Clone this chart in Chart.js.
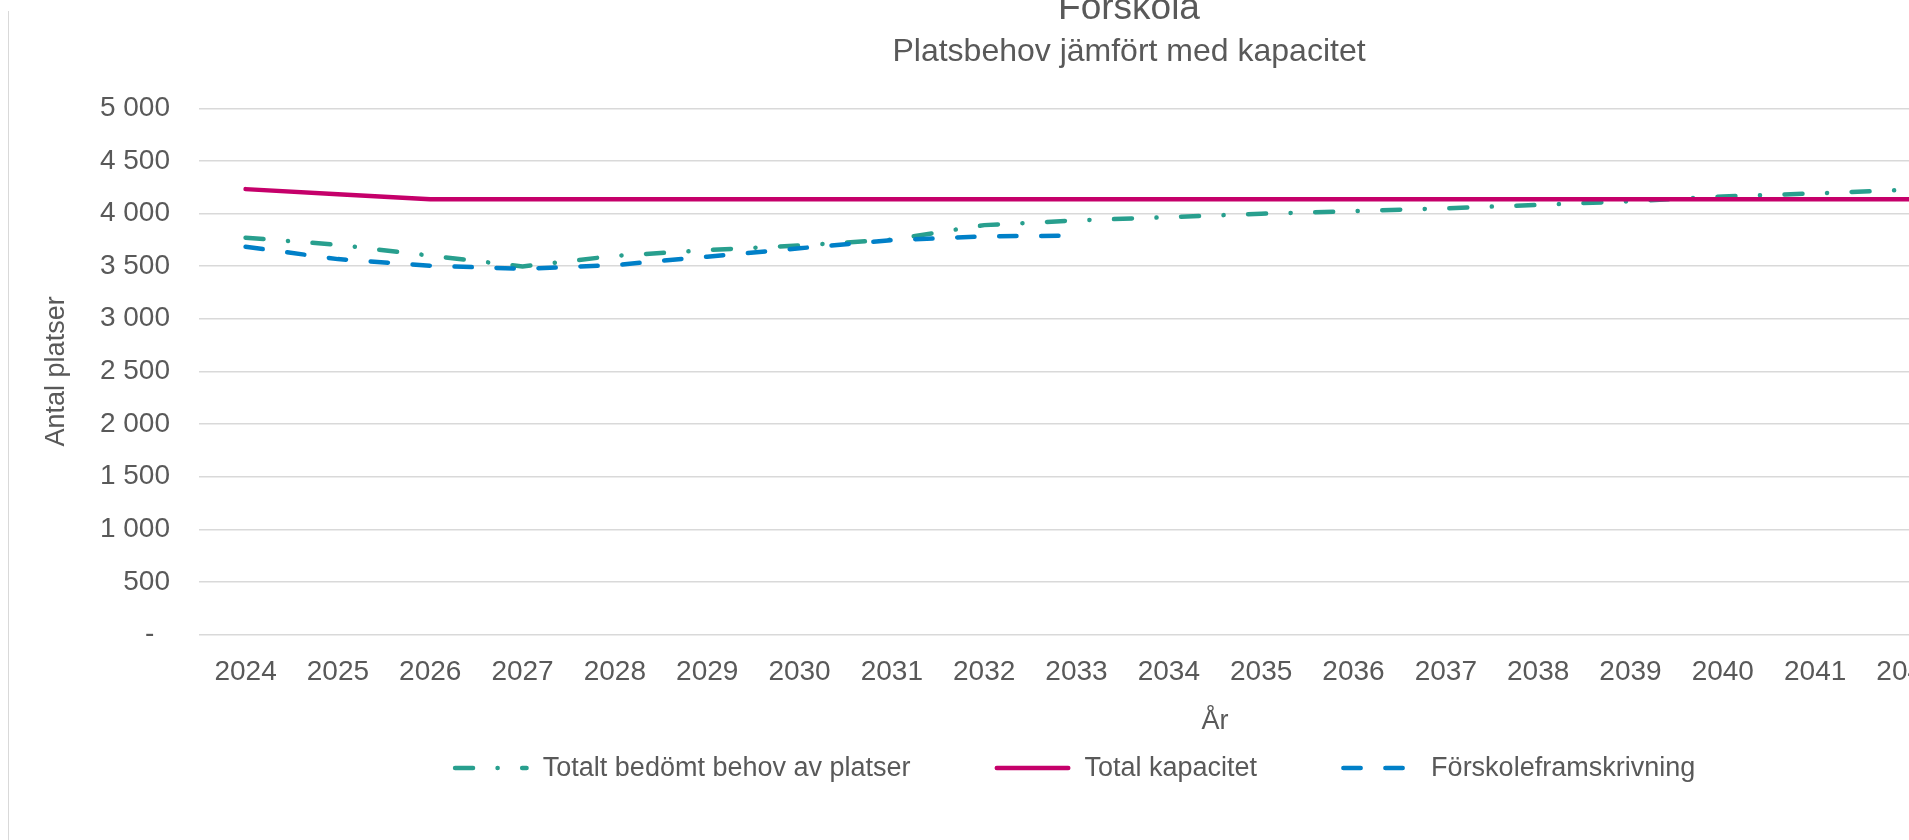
<!DOCTYPE html>
<html>
<head>
<meta charset="utf-8">
<script src="https://cdn.jsdelivr.net/npm/chart.js@4"></script>
<style>
  html, body { margin: 0; padding: 0; background: #fff; }
  body { width: 1909px; height: 840px; overflow: hidden; position: relative; }
  #frame { position: absolute; left: 8px; top: 11px; height: 829px; border-left: 1px solid #d9d9d9; }
  #chart { position: absolute; left: 9px; top: -20px; }
</style>
</head>
<body>
<div id="frame"></div>
<canvas id="chart" width="2240" height="860"></canvas>
<script>
// ---------------- data ----------------
const years = ['2024','2025','2026','2027','2028','2029','2030','2031','2032','2033','2034',
               '2035','2036','2037','2038','2039','2040','2041','2042','2043','2044','2045'];

const behov = [3770, 3703, 3600, 3498, 3598, 3652, 3697, 3752, 3890, 3935, 3966,
               3998, 4023, 4050, 4082, 4117, 4162, 4192, 4225, 4250, 4275, 4300];

const kapacitet = [4232, 4183, 4135, 4135, 4135, 4135, 4135, 4135, 4135, 4135, 4135,
                   4135, 4135, 4135, 4135, 4135, 4135, 4135, 4135, 4135, 4135, 4135];

const framskrivning = [3684, 3567, 3504, 3475, 3510, 3590, 3670, 3747, 3783, 3790, null,
                       null, null, null, null, null, null, null, null, null, null, null];

const yTicks = [0, 500, 1000, 1500, 2000, 2500, 3000, 3500, 4000, 4500, 5000];

const TEXT = '#595959';
const FONT = '"Liberation Sans", Arial, sans-serif';

// ---------------- legend (drawn as line samples) ----------------
const LEGEND_CX = 1065;   // canvas coords
const LEGEND_Y = 788;
const SAMPLE = 76, SAMPLE_GAP = 14, ITEM_GAP = 84;

const lineLegend = {
  id: 'lineLegend',
  afterDraw(chart) {
    const ctx = chart.ctx;
    const sets = chart.data.datasets;
    ctx.save();
    ctx.font = '27px ' + FONT;
    const widths = sets.map(ds => SAMPLE + SAMPLE_GAP + ctx.measureText(ds.label).width);
    const total = widths.reduce((a, b) => a + b, 0) + ITEM_GAP * (sets.length - 1);
    let x = LEGEND_CX - total / 2;
    sets.forEach((ds, i) => {
      const w = ds.borderWidth;
      ctx.strokeStyle = ds.borderColor;
      ctx.lineWidth = w;
      ctx.lineCap = 'round';
      ctx.setLineDash(ds.borderDash || []);
      ctx.beginPath();
      ctx.moveTo(x + w / 2, LEGEND_Y);
      ctx.lineTo(x + SAMPLE - w / 2, LEGEND_Y);
      ctx.stroke();
      ctx.setLineDash([]);
      ctx.fillStyle = TEXT;
      ctx.textAlign = 'left';
      ctx.textBaseline = 'middle';
      ctx.fillText(ds.label, x + SAMPLE + SAMPLE_GAP, LEGEND_Y + 1);
      x += widths[i] + ITEM_GAP;
    });
    ctx.restore();
  }
};

function fmt(v) {
  if (v === 0) return '-  ';
  return String(v).replace(/\B(?=(\d{3})+(?!\d))/g, ' ');
}

const ctx = document.getElementById('chart').getContext('2d');
const chart = new Chart(ctx, {
  type: 'line',
  data: {
    labels: years,
    datasets: [
      {
        label: 'Totalt bedömt behov av platser',
        data: behov,
        borderColor: '#289F8E',
        borderWidth: 4.5,
        borderDash: [18, 24.5, 0.1, 24.5],
        borderCapStyle: 'round',
        pointRadius: 0,
        tension: 0,
        order: 2
      },
      {
        label: 'Total kapacitet',
        data: kapacitet,
        borderColor: '#C5006A',
        borderWidth: 4.5,
        borderCapStyle: 'round',
        pointRadius: 0,
        tension: 0,
        order: 1
      },
      {
        label: 'Förskoleframskrivning',
        data: framskrivning,
        borderColor: '#0080C8',
        borderWidth: 4.5,
        borderDash: [17.3, 24.7],
        borderCapStyle: 'round',
        pointRadius: 0,
        tension: 0,
        order: 0
      }
    ]
  },
  options: {
    responsive: false,
    animation: false,
    layout: { padding: { left: 18.4, right: 18.4, top: 0, bottom: 101.8 } },
    plugins: {
      legend: { display: false },
      tooltip: { enabled: false },
      title: {
        display: true,
        text: 'Förskola',
        color: TEXT,
        font: { family: FONT, size: 37, weight: 'normal', lineHeight: 1.0 },
        padding: { top: 10.7, bottom: 0 }
      },
      subtitle: {
        display: true,
        text: 'Platsbehov jämfört med kapacitet',
        color: TEXT,
        font: { family: FONT, size: 32, weight: 'normal', lineHeight: 1.0 },
        padding: { top: 8.2, bottom: 40.4 }
      }
    },
    scales: {
      x: {
        offset: true,
        grid: { display: false, offset: true },
        border: { display: false },
        ticks: {
          color: TEXT,
          font: { family: FONT, size: 28 },
          padding: 12.7,
          autoSkip: false,
          maxRotation: 0
        },
        title: {
          display: true,
          text: 'År',
          color: TEXT,
          font: { family: FONT, size: 27, lineHeight: 1.2 },
          padding: { top: 0, bottom: 0 }
        },
        afterFit(scale) { scale.height = 103.7; }
      },
      y: {
        min: 0,
        max: 5000,
        afterBuildTicks(scale) { scale.ticks = yTicks.map(v => ({ value: v })); },
        grid: { color: '#d9d9d9', lineWidth: 1.5, drawTicks: false },
        border: { display: false },
        ticks: {
          color: TEXT,
          font: { family: FONT, size: 28 },
          padding: 29.4,
          callback: v => fmt(v)
        },
        title: {
          display: true,
          text: 'Antal platser',
          color: TEXT,
          font: { family: FONT, size: 27, lineHeight: 1.2 },
          padding: { top: 13.4, bottom: 0 }
        },
        afterFit(scale) { scale.width = 172; }
      }
    }
  },
  plugins: [lineLegend]
});
</script>
</body>
</html>
